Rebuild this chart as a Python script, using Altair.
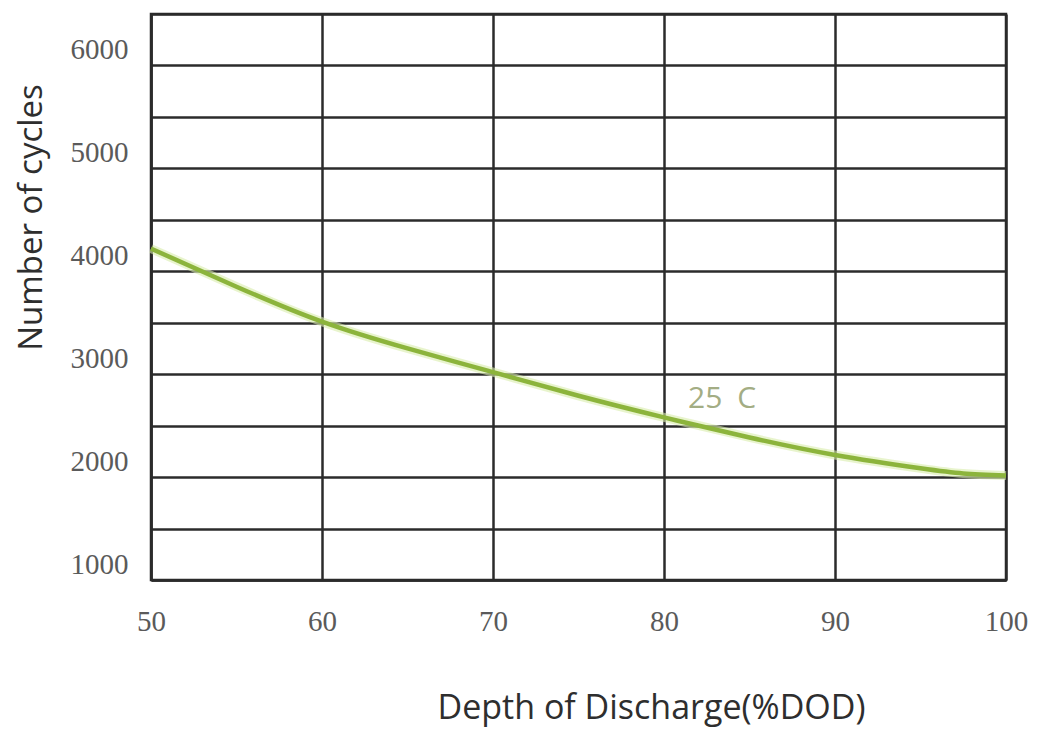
import altair as alt
import pandas as pd

# Data
dod = [50, 55, 60, 65, 70, 75, 80, 85, 90, 95, 97.5, 100]
cycles = [4220, 3850, 3510, 3250, 3020, 2790, 2580, 2385, 2215, 2085, 2035, 2015]

label_text = ["25\u2002C"]
label_x = [83.4]
label_y = [2760]

y_grid = [1000, 1500, 2000, 2500, 3000, 3500, 4000, 4500, 5000, 5500, 6000, 6500]
x_ticks = [50, 60, 70, 80, 90, 100]

df = pd.DataFrame({"dod": dod, "cycles": cycles})
lab = pd.DataFrame({"t": label_text, "x": label_x, "y": label_y})

grid_color = "#2b2b2b"

x_enc = alt.X(
    "dod:Q",
    scale=alt.Scale(domain=[50, 100], nice=False, zero=False),
    axis=alt.Axis(
        values=x_ticks,
        title="Depth of Discharge(%DOD)",
        titleFont="Open Sans",
        titleFontSize=34,
        titleFontWeight="normal",
        titleColor="#2e2e2e",
        titleX=500,
        titleY=138,
        titleAlign="center",
        titleBaseline="alphabetic",
        labelFont="Liberation Serif",
        labelFontSize=29,
        labelColor="#5a5a5a",
        labelBaseline="alphabetic",
        labelPadding=50,
        ticks=False,
        tickSize=0,
        grid=True,
        gridColor=grid_color,
        gridWidth=2.5,
        gridOpacity=1,
        domainColor=grid_color,
        domainWidth=2.5,
        labelFlush=False,
    ),
)

y_enc = alt.Y(
    "cycles:Q",
    scale=alt.Scale(domain=[1000, 6500], nice=False, zero=False),
    axis=alt.Axis(
        values=y_grid,
        labelExpr="(datum.value % 1000 == 0 && datum.value <= 6000) ? datum.value + '' : ''",
        title="Number of cycles",
        titleFont="Open Sans",
        titleFontSize=33,
        titleFontWeight="normal",
        titleColor="#2e2e2e",
        titleAngle=-90,
        titleX=-120,
        titleY=203,
        titleAlign="center",
        titleBaseline="middle",
        labelFont="Liberation Serif",
        labelFontSize=29,
        labelColor="#5a5a5a",
        labelBaseline="alphabetic",
        labelOffset=-7,
        labelPadding=23,
        ticks=False,
        tickSize=0,
        grid=True,
        gridColor=grid_color,
        gridWidth=2.5,
        gridOpacity=1,
        domainColor=grid_color,
        domainWidth=2.5,
        labelFlush=False,
    ),
)

halo = alt.Chart(df).mark_line(
    interpolate="natural", color="#d8ecac", strokeWidth=9, opacity=0.6
).encode(x=x_enc, y=y_enc)

line = alt.Chart(df).mark_line(
    interpolate="natural", color="#8cb43c", strokeWidth=4.5
).encode(x=x_enc, y=y_enc)

text = alt.Chart(lab).mark_text(
    font="Open Sans", fontSize=30, color="#a3ad84", align="center", baseline="middle"
).encode(
    x=alt.X("x:Q", scale=alt.Scale(domain=[50, 100], nice=False, zero=False)),
    y=alt.Y("y:Q", scale=alt.Scale(domain=[1000, 6500], nice=False, zero=False)),
    text="t:N",
)

chart = alt.layer(halo, line, text).properties(
    width=855,
    height=566,
    autosize=alt.AutoSizeParams(type="none"),
    padding={"left": 143, "top": 6, "right": 29, "bottom": 147},
    background="white",
).configure_view(stroke=grid_color, strokeWidth=2.5)

chart.save("out.html", embed_options={"renderer": "svg", "actions": False})
